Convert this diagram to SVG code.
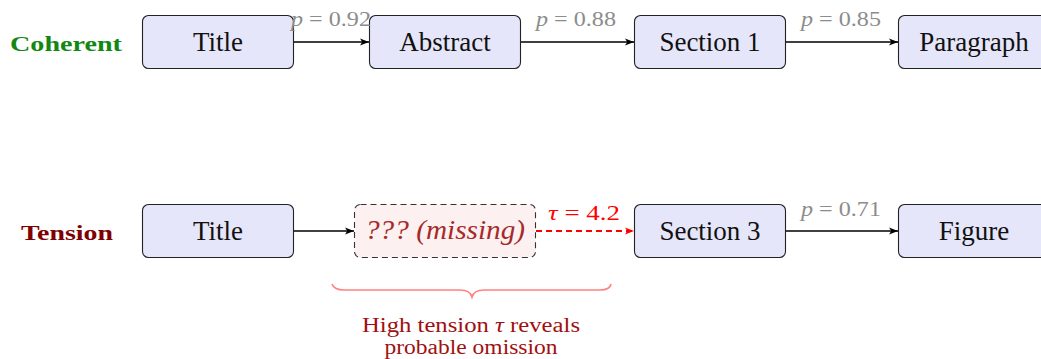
<svg xmlns="http://www.w3.org/2000/svg" width="1041" height="359" viewBox="0 0 1041 359">
<style>
.box{fill:#e6e6fa;stroke:#222;stroke-width:1.1}
.bt{font-family:"Liberation Serif","DejaVu Serif",serif;font-size:27px;fill:#111;text-anchor:middle}
.pl{font-family:"Liberation Serif","DejaVu Serif",serif;font-size:21px;fill:#8c8c8c;text-anchor:middle}
.edge{stroke:#000;stroke-width:1.7;fill:none}
</style>
<defs>
<marker id="ah" viewBox="0 0 10 10" refX="10" refY="5" markerWidth="10" markerHeight="9" markerUnits="userSpaceOnUse" orient="auto"><path d="M0,1 L10,5 L0,9 L2.5,5 Z" fill="#000"/></marker>
<marker id="ahr" viewBox="0 0 10 10" refX="10" refY="5" markerWidth="10" markerHeight="9" markerUnits="userSpaceOnUse" orient="auto"><path d="M0,1 L10,5 L0,9 L2.5,5 Z" fill="#ff0000"/></marker>
</defs>
<g id="labels">
<text x="66" y="51" font-family="Liberation Serif,serif" font-weight="bold" font-size="22" fill="#118811" text-anchor="middle" textLength="112" lengthAdjust="spacingAndGlyphs">Coherent</text>
<text x="67" y="240" font-family="Liberation Serif,serif" font-weight="bold" font-size="22" fill="#800000" text-anchor="middle" textLength="92" lengthAdjust="spacingAndGlyphs">Tension</text>
</g>
<g id="n1"><rect class="box" x="142.5" y="15.5" width="151" height="53" rx="6"/><text class="bt" x="218" y="51">Title</text></g>
<g id="n2"><rect class="box" x="369.5" y="15.5" width="151" height="53" rx="6"/><text class="bt" x="445" y="51">Abstract</text></g>
<g id="n3"><rect class="box" x="634.5" y="15.5" width="151" height="53" rx="6"/><text class="bt" x="710" y="51">Section 1</text></g>
<g id="n4"><rect class="box" x="898.5" y="15.5" width="151" height="53" rx="6"/><text class="bt" x="974" y="51">Paragraph</text></g>
<g id="m1"><rect class="box" x="142.5" y="204.5" width="151" height="53" rx="6"/><text class="bt" x="218" y="240">Title</text></g>
<g id="m2"><rect x="354.5" y="204.5" width="181" height="53" rx="6" fill="#fdf0f0" stroke="#333" stroke-width="1.1" stroke-dasharray="6,4"/><text x="445" y="239" font-family="Liberation Serif,serif" font-style="italic" font-size="27" fill="#a52a2a" text-anchor="middle" textLength="160" lengthAdjust="spacingAndGlyphs">??? (missing)</text></g>
<g id="m3"><rect class="box" x="634.5" y="204.5" width="151" height="53" rx="6"/><text class="bt" x="710" y="240">Section 3</text></g>
<g id="m4"><rect class="box" x="898.5" y="204.5" width="151" height="53" rx="6"/><text class="bt" x="974" y="240">Figure</text></g>
<g id="connectors">
<line class="edge" x1="294" y1="42" x2="369" y2="42" marker-end="url(#ah)"/>
<line class="edge" x1="521" y1="42" x2="634" y2="42" marker-end="url(#ah)"/>
<line class="edge" x1="786" y1="42" x2="898" y2="42" marker-end="url(#ah)"/>
<line class="edge" x1="294" y1="231" x2="354" y2="231" marker-end="url(#ah)"/>
<line x1="536" y1="231" x2="634" y2="231" stroke="#ff0000" stroke-width="1.8" stroke-dasharray="6,4" marker-end="url(#ahr)"/>
<line class="edge" x1="786" y1="231" x2="898" y2="231" marker-end="url(#ah)"/>
<text class="pl" x="331" y="26" textLength="80" lengthAdjust="spacingAndGlyphs"><tspan font-style="italic">p</tspan> = 0.92</text>
<text class="pl" x="576" y="26" textLength="80" lengthAdjust="spacingAndGlyphs"><tspan font-style="italic">p</tspan> = 0.88</text>
<text class="pl" x="841" y="26" textLength="80" lengthAdjust="spacingAndGlyphs"><tspan font-style="italic">p</tspan> = 0.85</text>
<text class="pl" x="841" y="216" textLength="80" lengthAdjust="spacingAndGlyphs"><tspan font-style="italic">p</tspan> = 0.71</text>
<text x="584" y="220" font-family="Liberation Serif,serif" font-size="21" fill="#ff0000" text-anchor="middle" textLength="72" lengthAdjust="spacingAndGlyphs"><tspan font-style="italic">τ</tspan> = 4.2</text>
</g>
<g id="brace">
<path d="M332,284 Q334,290 344,290 L460,290 Q470,290 472,297 Q474,290 484,290 L600,290 Q610,290 611,284" fill="none" stroke="#ff8080" stroke-width="1.6"/>
<text x="471" y="332" font-family="Liberation Serif,serif" font-size="20" fill="#a01010" text-anchor="middle" textLength="218" lengthAdjust="spacingAndGlyphs">High tension <tspan font-style="italic">τ</tspan> reveals</text>
<text x="471" y="354" font-family="Liberation Serif,serif" font-size="20" fill="#a01010" text-anchor="middle" textLength="173" lengthAdjust="spacingAndGlyphs">probable omission</text>
</g>
</svg>
